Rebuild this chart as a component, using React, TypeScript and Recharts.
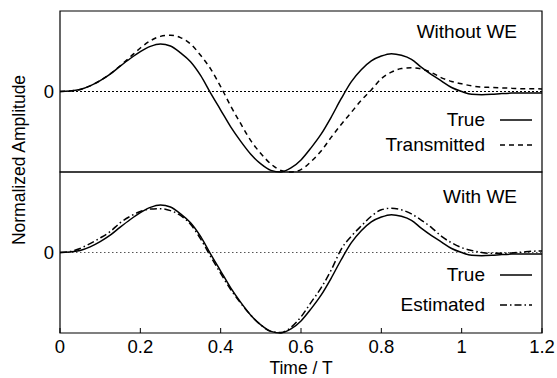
import { LineChart, Line, XAxis, YAxis, ReferenceLine, ReferenceArea, Legend } from "recharts";

// samples (Time / T)
const time = [
  0, 0.025, 0.05, 0.075, 0.1, 0.125, 0.15, 0.175, 0.2, 0.225, 0.25, 0.275, 0.3, 0.325, 0.35, 0.375,
  0.4, 0.425, 0.45, 0.475, 0.5, 0.525, 0.55, 0.575, 0.6, 0.625, 0.65, 0.675, 0.7, 0.725, 0.75, 0.775,
  0.8, 0.825, 0.85, 0.875, 0.9, 0.925, 0.95, 0.975, 1.0, 1.025, 1.05, 1.075, 1.1, 1.125, 1.15, 1.175, 1.2,
];
const trueAmp = [
  0, 0.006, 0.025, 0.07, 0.135, 0.215, 0.315, 0.41, 0.495, 0.56, 0.59, 0.565, 0.48, 0.37, 0.2, -0.02,
  -0.23, -0.44, -0.62, -0.78, -0.9, -0.98, -1.0, -0.95, -0.85, -0.7, -0.53, -0.32, -0.09, 0.12, 0.27, 0.38,
  0.44, 0.47, 0.45, 0.4, 0.3, 0.21, 0.13, 0.05, 0.0, -0.035, -0.04, -0.035, -0.025, -0.02, -0.02, -0.02, -0.02,
];
const transmitted = [
  0, 0.006, 0.025, 0.07, 0.135, 0.22, 0.32, 0.43, 0.54, 0.63, 0.685, 0.7, 0.67, 0.59, 0.45, 0.28,
  0.06, -0.18, -0.4, -0.61, -0.77, -0.9, -0.98, -1.0, -0.97, -0.87, -0.74, -0.57, -0.41, -0.26, -0.11, 0.02,
  0.16, 0.24, 0.285, 0.295, 0.28, 0.235, 0.17, 0.125, 0.095, 0.07, 0.055, 0.05, 0.045, 0.04, 0.035, 0.035, 0.03,
];
const estimated = [
  0, 0.012, 0.05, 0.11, 0.18, 0.26, 0.37, 0.45, 0.51, 0.54, 0.545, 0.52, 0.46, 0.35, 0.17, -0.05,
  -0.26, -0.46, -0.63, -0.78, -0.9, -0.98, -0.995, -0.93, -0.8, -0.62, -0.44, -0.22, 0.04, 0.2, 0.33, 0.45,
  0.53, 0.55, 0.53, 0.48, 0.4, 0.31, 0.2, 0.12, 0.06, 0.025, 0.0, -0.01, -0.01, -0.005, 0.005, 0.015, 0.02,
];
const xTicks = [0, 0.2, 0.4, 0.6, 0.8, 1, 1.2];

const rows = time.map((t, i) => ({
  t,
  trueAmp: trueAmp[i],
  transmitted: transmitted[i],
  estimated: estimated[i],
}));

const W = 557;
const H = 378;
const FONT = '"Liberation Sans", Arial, Helvetica, sans-serif';
const dashes: Record<string, string | undefined> = {
  trueAmp: undefined,
  transmitted: "5 4",
  estimated: "7 3 1.5 3",
};
const keyOrder = ["trueAmp", "transmitted", "estimated"];

function TopTick(props: any) {
  const { x, y } = props;
  return <line x1={x} x2={x} y1={y} y2={y + 5} stroke="#000" strokeWidth={1} />;
}

function BottomTick(props: any) {
  const { x, y, payload } = props;
  return (
    <g>
      <line x1={x} x2={x} y1={y} y2={y - 5} stroke="#000" strokeWidth={1} />
      <text x={x} y={y + 20} textAnchor="middle" fontSize={18.5} fontFamily={FONT} fill="#000">
        {payload.value}
      </text>
    </g>
  );
}

function PanelKey({ payload, title, tops }: any) {
  const items = [...(payload || [])].sort(
    (a: any, b: any) => keyOrder.indexOf(a.dataKey) - keyOrder.indexOf(b.dataKey)
  );
  return (
    <div style={{ position: "relative", width: 180, height: 320, fontFamily: FONT, fontSize: 19, lineHeight: "20px", color: "#000" }}>
      <div style={{ position: "absolute", right: 25, top: tops[0], whiteSpace: "nowrap" }}>{title}</div>
      {items.map((p: any, i: number) => (
        <div key={p.value} style={{ position: "absolute", right: 0, top: tops[i + 1], height: 20, display: "flex", alignItems: "center" }}>
          <span style={{ whiteSpace: "nowrap" }}>{p.value}</span>
          <svg width={32} height={20} style={{ marginLeft: 15, marginRight: 10 }}>
            <line x1={0} x2={32} y1={10} y2={10} stroke="#000" strokeWidth={1.5} strokeDasharray={dashes[p.dataKey as string]} />
          </svg>
        </div>
      ))}
    </div>
  );
}

function YTitle(props: any) {
  const vb = props.viewBox || { x: 0, y: 0 };
  const cx = vb.x + 19;
  const cy = vb.y + 149;
  return (
    <text transform={`translate(${cx},${cy}) rotate(-90)`} textAnchor="middle" dominantBaseline="central" fontSize={17.5} fontFamily={FONT} fill="#000">
      Normalized Amplitude
    </text>
  );
}

const tickStyle = { fontSize: 18.5, fill: "#000", fontFamily: FONT };

export default function App() {
  return (
    <div style={{ position: "absolute", left: 0, top: 0, width: W, height: H, background: "#fff" }}>
      {/* upper panel: without WE */}
      <div style={{ position: "absolute", left: 0, top: 0 }}>
        <LineChart width={W} height={H} data={rows} margin={{ top: 11, right: 15, bottom: 206, left: 0 }}>
          <XAxis dataKey="t" type="number" domain={[0, 1.2]} ticks={xTicks} orientation="top" height={0}
            tickSize={0} tickMargin={0} axisLine={false} interval={0} tick={<TopTick />} />
          <YAxis type="number" domain={[-1, 1]} ticks={[0]} width={60} tickSize={0} tickMargin={6}
            axisLine={false} tickLine={false} tick={tickStyle} label={{ content: <YTitle /> }} />
          <ReferenceArea x1={0} x2={1.2} y1={-1} y2={1} fill="none" stroke="#000" strokeWidth={1.2} />
          <ReferenceLine y={0} stroke="#000" strokeWidth={1} strokeDasharray="2 2" />
          <Line dataKey="trueAmp" name="True" type="monotone" stroke="#000" strokeWidth={1.5} dot={false} isAnimationActive={false} />
          <Line dataKey="transmitted" name="Transmitted" type="monotone" stroke="#000" strokeWidth={1.5} strokeDasharray={dashes.transmitted} dot={false} isAnimationActive={false} />
          <Legend layout="vertical" align="center" verticalAlign="middle"
            wrapperStyle={{ left: 362, top: 0, width: 180, height: 320 }}
            content={(p: any) => <PanelKey payload={p.payload} title="Without WE" tops={[22, 110, 135]} />} />
        </LineChart>
      </div>
      {/* lower panel: with WE */}
      <div style={{ position: "absolute", left: 0, top: 0 }}>
        <LineChart width={W} height={H} data={rows} margin={{ top: 172, right: 15, bottom: 0, left: 0 }}>
          <XAxis dataKey="t" type="number" domain={[0, 1.2]} ticks={xTicks} height={45}
            tickSize={0} tickMargin={0} axisLine={false} interval={0} tick={<BottomTick />}
            label={{ value: "Time / T", position: "insideBottom", offset: 4, fontSize: 17.5, fill: "#000", fontFamily: FONT }} />
          <YAxis type="number" domain={[-1, 1]} ticks={[0]} width={60} tickSize={0} tickMargin={6}
            axisLine={false} tickLine={false} tick={tickStyle} />
          <ReferenceArea x1={0} x2={1.2} y1={-1} y2={1} fill="none" stroke="#000" strokeWidth={1.2} />
          <ReferenceLine y={0} stroke="#555" strokeWidth={1} strokeDasharray="1.5 2.5" />
          <Line dataKey="trueAmp" name="True" type="monotone" stroke="#000" strokeWidth={1.5} dot={false} isAnimationActive={false} />
          <Line dataKey="estimated" name="Estimated" type="monotone" stroke="#000" strokeWidth={1.5} strokeDasharray={dashes.estimated} dot={false} isAnimationActive={false} />
          <Legend layout="vertical" align="center" verticalAlign="middle"
            wrapperStyle={{ left: 362, top: 0, width: 180, height: 320 }}
            content={(p: any) => <PanelKey payload={p.payload} title="With WE" tops={[187, 265, 295]} />} />
        </LineChart>
      </div>
    </div>
  );
}
